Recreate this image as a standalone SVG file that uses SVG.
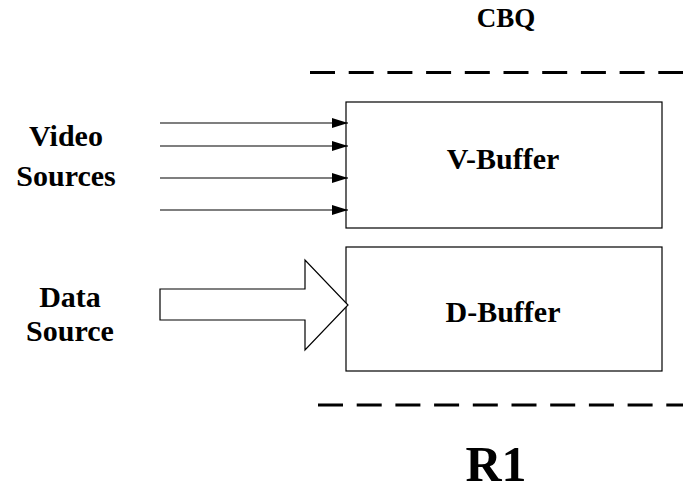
<svg xmlns="http://www.w3.org/2000/svg" width="683" height="492" viewBox="0 0 683 492">
<style>
text{font-family:"Liberation Serif","Times New Roman",serif;font-weight:bold;fill:#000;text-anchor:middle}
.lbl{font-size:30px}
.box{fill:#fff;stroke:#000;stroke-width:1.2}
.dash{stroke:#000;stroke-width:3;stroke-dasharray:25 13.7;fill:none}
.ln{stroke:#000;stroke-width:1.2;fill:none}
</style>
<defs>
<marker id="ah" markerWidth="16" markerHeight="10" refX="16" refY="5" orient="auto" markerUnits="userSpaceOnUse">
<path d="M0,0 L16,5 L0,10 Z" fill="#000"/>
</marker>
</defs>
<g id="cbq-label"><text x="506" y="27" font-size="27">CBQ</text></g>
<g id="boundaries">
<line class="dash" x1="310" y1="72.5" x2="683" y2="72.5"/>
<line class="dash" x1="318" y1="405" x2="683" y2="405"/>
</g>
<g id="v-buffer">
<rect class="box" x="346" y="102" width="316" height="126"/>
<text class="lbl" x="503" y="169">V-Buffer</text>
</g>
<g id="d-buffer">
<rect class="box" x="346" y="247" width="316" height="124"/>
<text class="lbl" x="503" y="322">D-Buffer</text>
</g>
<g id="video-sources">
<text class="lbl" x="66" y="146">Video</text>
<text class="lbl" x="66" y="186">Sources</text>
</g>
<g id="data-source">
<text class="lbl" x="70" y="307">Data</text>
<text class="lbl" x="70" y="341">Source</text>
</g>
<g id="connectors">
<line class="ln" x1="160" y1="123" x2="348" y2="123" marker-end="url(#ah)"/>
<line class="ln" x1="160" y1="146" x2="348" y2="146" marker-end="url(#ah)"/>
<line class="ln" x1="160" y1="178" x2="348" y2="178" marker-end="url(#ah)"/>
<line class="ln" x1="160" y1="210" x2="348" y2="210" marker-end="url(#ah)"/>
<path class="box" d="M160,289 L305,289 L305,260 L348,305 L305,350 L305,320 L160,320 Z" stroke-width="1"/>
</g>
<g id="r1-label"><text x="496" y="481" font-size="50">R1</text></g>
</svg>
